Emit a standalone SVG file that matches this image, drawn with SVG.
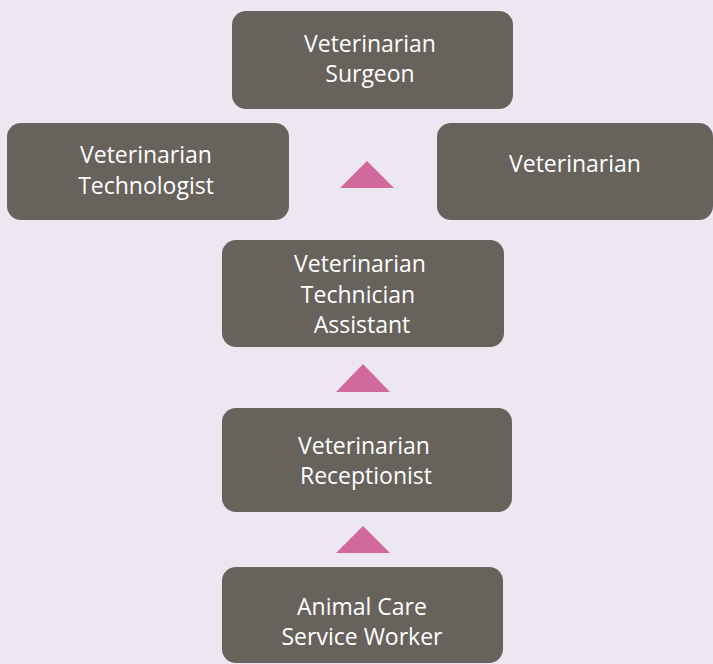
<svg xmlns="http://www.w3.org/2000/svg" width="713" height="664" viewBox="0 0 713 664">
<style>
.box{fill:#67625c;}
.lbl{font-family:"Open Sans","Liberation Sans",sans-serif;font-size:23px;fill:#ffffff;text-anchor:middle;}
.tri{fill:#d1699c;}
</style>
<rect x="0" y="0" width="713" height="664" fill="#ede7f2"/>
<g id="surgeon">
<rect class="box" x="232" y="11" width="281" height="98" rx="14"/>
<text class="lbl" x="370" y="52">Veterinarian</text>
<text class="lbl" x="370" y="82">Surgeon</text>
</g>
<g id="technologist">
<rect class="box" x="7" y="123" width="282" height="97" rx="14"/>
<text class="lbl" x="146" y="163">Veterinarian</text>
<text class="lbl" x="146" y="194">Technologist</text>
</g>
<g id="veterinarian">
<rect class="box" x="437" y="123" width="276" height="97" rx="14"/>
<text class="lbl" x="575" y="172">Veterinarian</text>
</g>
<g id="technician-assistant">
<rect class="box" x="222" y="240" width="282" height="107" rx="14"/>
<text class="lbl" x="360" y="272">Veterinarian</text>
<text class="lbl" x="358" y="303">Technician</text>
<text class="lbl" x="362" y="333">Assistant</text>
</g>
<g id="receptionist">
<rect class="box" x="222" y="408" width="290" height="104" rx="14"/>
<text class="lbl" x="364" y="454">Veterinarian</text>
<text class="lbl" x="366" y="484">Receptionist</text>
</g>
<g id="animal-care">
<rect class="box" x="222" y="567" width="281" height="96" rx="14"/>
<text class="lbl" x="362" y="615">Animal Care</text>
<text class="lbl" x="362" y="645">Service Worker</text>
</g>
<g id="connectors">
<polygon class="tri" points="340,188 367,161 394,188"/>
<polygon class="tri" points="336,392 363,364 390,392"/>
<polygon class="tri" points="336,553 363,526 390,553"/>
</g>
</svg>
